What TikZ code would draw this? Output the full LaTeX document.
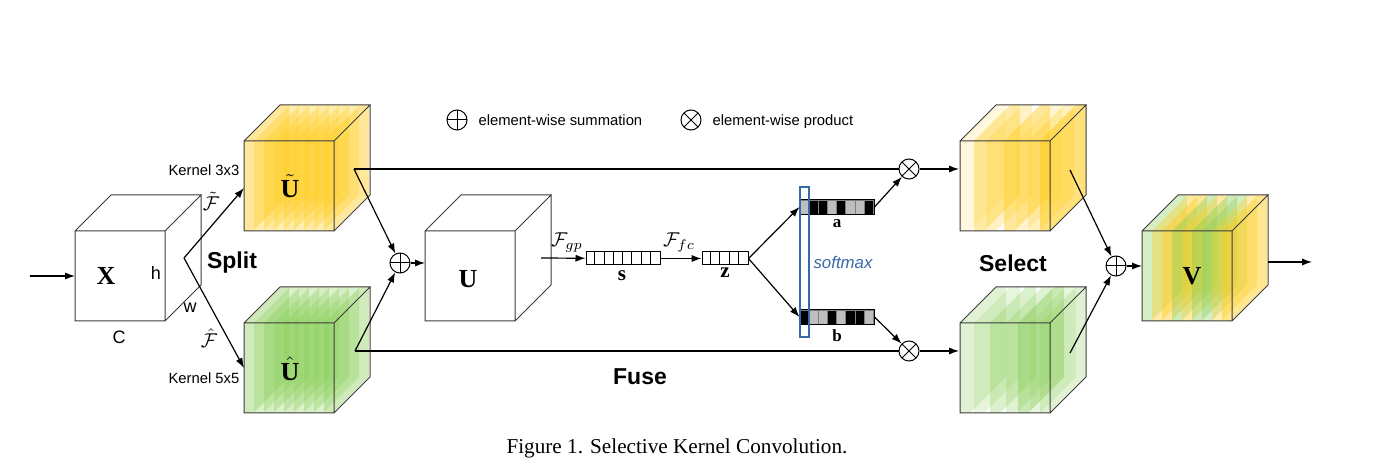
\documentclass[tikz,border=0pt]{standalone}
\usepackage{fontspec}
\setmainfont{Liberation Serif}
\setsansfont{Liberation Sans}
\usetikzlibrary{arrows.meta,positioning}

\definecolor{skyellow}{RGB}{255,205,35}
\definecolor{skgreen}{RGB}{135,205,85}
\definecolor{cellgray}{RGB}{190,190,190}
\definecolor{smaxblue}{RGB}{55,105,165}
\definecolor{edgegray}{RGB}{60,60,60}

\tikzset{
  arr/.style={-{Latex[length=5pt,width=3.6pt]}, line width=0.6pt},
  ln/.style={line width=0.6pt},
  cubeline/.style={draw=edgegray, line width=0.5pt},
  plusnode/.style={circle, draw, line width=0.5pt, minimum size=10pt, inner sep=0pt,
    path picture={\draw[line width=0.5pt] (path picture bounding box.north) -- (path picture bounding box.south)
      (path picture bounding box.west) -- (path picture bounding box.east);}},
  timesnode/.style={circle, draw, line width=0.5pt, minimum size=10pt, inner sep=0pt,
    path picture={\draw[line width=0.5pt] ([shift={(45:8pt)}]path picture bounding box.center) -- ([shift={(225:8pt)}]path picture bounding box.center)
      ([shift={(135:8pt)}]path picture bounding box.center) -- ([shift={(315:8pt)}]path picture bounding box.center);}},
  vecbox/.style={draw, line width=0.5pt, minimum width=37pt, minimum height=6.5pt, inner sep=0pt},
  lbl/.style={font=\sffamily\fontsize{7.4}{9}\selectfont, text height=1.6ex, text depth=0.4ex},
  dimlbl/.style={font=\sffamily\fontsize{9}{10}\selectfont},
  stagelbl/.style={font=\sffamily\bfseries\fontsize{11.5}{13}\selectfont},
  cubelbl/.style={font=\bfseries\fontsize{13}{15}\selectfont},
  mathlbl/.style={font=\fontsize{10}{12}\selectfont, inner sep=1pt},
}

% cube: front top-left corner x, y, slab list offset/colour/opacity, slab thickness
\newcommand{\skcube}[4]{%
  \foreach \o/\c/\p in {#3}
    \fill[\c, fill opacity=\p] (#1+\o,#2+90) -- ++(0,-90) -- ++(36,-36) -- ++(#4,0) -- ++(0,90) -- ++(-36,36) -- cycle;
  \draw[cubeline] (#1,#2) rectangle ++(90,90) (#1,#2) -- ++(36,-36) -- ++(90,0) -- ++(-36,36)
    ++(36,-36) -- ++(0,90) -- ++(-36,36);
}

\begin{document}
\begin{tikzpicture}[x=0.5pt, y=-0.5pt]
  \useasboundingbox (0,0) rectangle (1393,475);

  % legend
  \node[plusnode] (legsum) at (457,120) {};
  \node[lbl, right=2pt of legsum] (legsumtxt) {element-wise summation};
  \node[timesnode] (legprod) at (691,120) {};
  \node[lbl, right=2pt of legprod] (legprodtxt) {element-wise product};

  % input X
  \skcube{75}{231}{}{8}
  \node[cubelbl] (xlbl) at (106,276) {X};
  \node[dimlbl] (hlbl) at (156,273) {h};
  \node[dimlbl] (wlbl) at (190,308) {w};
  \node[dimlbl] (clbl) at (119,337) {C};
  \coordinate (in) at (30,276);
  \coordinate (X-in) at (75,276);
  \draw[arr] (in) -- (X-in);

  % split
  \coordinate (split) at (184,258);
  \skcube{244}{141}{0/skyellow/0.45,10/skyellow/0.35,20/skyellow/0.4,30/skyellow/0.35,40/skyellow/0.4,50/skyellow/0.35,60/skyellow/0.4,70/skyellow/0.35,80/skyellow/0.45}{9}
  \skcube{244}{323}{0/skgreen/0.4,10/skgreen/0.3,20/skgreen/0.35,30/skgreen/0.3,40/skgreen/0.35,50/skgreen/0.3,60/skgreen/0.35,70/skgreen/0.3,80/skgreen/0.4}{9}
  \node[cubelbl] (utlbl) at (290,186) {$\tilde{\mathbf{U}}$};
  \node[cubelbl] (uhlbl) at (290,369) {$\hat{\mathbf{U}}$};
  \coordinate (Ut-in) at (244,188);
  \coordinate (Uh-in) at (244,368);
  \draw[arr] (split) -- (Ut-in);
  \draw[arr] (split) -- (Uh-in);
  \node[mathlbl] (ftl) at (211,201) {$\tilde{\mathcal{F}}$};
  \node[mathlbl] (fhl) at (209,338) {$\hat{\mathcal{F}}$};
  \node[lbl] (k3) at (204,170) {Kernel 3x3};
  \node[lbl] (k5) at (204,378) {Kernel 5x5};
  \node[stagelbl] (splitlbl) at (232,263) {Split};

  % fuse
  \node[plusnode] (sum1) at (400,263) {};
  \coordinate (Ut-out) at (354,169);
  \coordinate (Uh-out) at (355,351);
  \draw[arr] (Ut-out) -- (sum1);
  \draw[arr] (Uh-out) -- (sum1);
  \skcube{425}{231}{}{8}
  \node[cubelbl] (ulbl) at (468,279) {U};
  \coordinate (U-in) at (425,263);
  \draw[arr] (sum1) -- (U-in);
  \coordinate (gp) at (541,258);
  \node[vecbox] (s) at (623,258.5) {};
  \foreach \i in {1,...,7}
    \draw[line width=0.5pt] ([xshift=\i*4.625pt]s.north west) -- ([xshift=\i*4.625pt]s.south west);
  \node[vecbox, minimum width=23pt] (z) at (725,258.5) {};
  \foreach \i in {1,...,4}
    \draw[line width=0.5pt] ([xshift=\i*4.6pt]z.north west) -- ([xshift=\i*4.6pt]z.south west);
  \draw[arr] (gp) -- (s);
  \draw[arr] (s) -- (z);
  \node[mathlbl] (fgp) at (567,243) {$\mathcal{F}_{gp}$};
  \node[mathlbl] (ffc) at (679,243) {$\mathcal{F}_{fc}$};
  \node[font=\bfseries\fontsize{10.5}{12}\selectfont] (slbl) at (622,276) {s};
  \node[font=\bfseries\fontsize{10.5}{12}\selectfont] (zlbl) at (725,273) {z};
  \node[stagelbl] (fuselbl) at (640,377) {Fuse};

  % attention vectors
  \node[vecbox, minimum height=7pt] (a) at (837,207) {};
  \node[vecbox, minimum height=7pt] (b) at (837,317) {};
  \foreach \i/\c in {0/cellgray,1/black,2/black,3/cellgray,4/black,5/cellgray,6/cellgray,7/black}
    \filldraw[fill=\c, draw=gray, line width=0.3pt] ([xshift=\i*4.625pt]a.south west) rectangle ++(4.625pt,7pt);
  \foreach \i/\c in {0/black,1/cellgray,2/cellgray,3/black,4/cellgray,5/black,6/black,7/cellgray}
    \filldraw[fill=\c, draw=gray, line width=0.3pt] ([xshift=\i*4.625pt]b.south west) rectangle ++(4.625pt,7pt);
  \draw[line width=0.5pt] (a.south west) rectangle (a.north east) (b.south west) rectangle (b.north east);
  \node[draw=smaxblue, line width=0.6pt, minimum width=4.5pt, minimum height=75pt, inner sep=0pt] (smax) at (804.5,262) {};
  \node[font=\sffamily\itshape\fontsize{8.4}{10}\selectfont, text=smaxblue] (smaxlbl) at (843,262) {softmax};
  \node[font=\bfseries\fontsize{8.5}{10}\selectfont] (albl) at (837,224) {a};
  \node[font=\bfseries\fontsize{8.5}{10}\selectfont] (blbl) at (837,336) {b};
  \draw[arr] (z.east) -- (a.west);
  \draw[arr] (z.east) -- (b.west);

  % select
  \node[timesnode] (prod1) at (909,169) {};
  \node[timesnode] (prod2) at (909,351) {};
  \draw[ln] (Ut-out) -- (prod1);
  \draw[ln] (Uh-out) -- (prod2);
  \draw[arr] (a.east) -- (prod1);
  \draw[arr] (b.east) -- (prod2);
  \skcube{960}{141}{0/skyellow/0.15,14/skyellow/0.4,26/skyellow/0.25,44/skyellow/0.45,56/skyellow/0.2,68/skyellow/0.3,80/skyellow/0.6}{10}
  \skcube{960}{323}{0/skgreen/0.25,14/skgreen/0.2,30/skgreen/0.3,46/skgreen/0.25,58/skgreen/0.45,70/skgreen/0.2,80/skgreen/0.25}{10}
  \coordinate (Sa-in) at (959,169);
  \coordinate (Sb-in) at (959,351);
  \draw[arr] (prod1) -- (Sa-in);
  \draw[arr] (prod2) -- (Sb-in);
  \node[stagelbl] (selectlbl) at (1013,263) {Select};

  % output V
  \node[plusnode] (sum2) at (1116,266) {};
  \coordinate (Sa-out) at (1070,170);
  \coordinate (Sb-out) at (1070,353);
  \draw[arr] (Sa-out) -- (sum2);
  \draw[arr] (Sb-out) -- (sum2);
  \skcube{1142}{231}{0/skgreen/0.35,10/skyellow/0.4,20/skyellow/0.45,30/skgreen/0.4,40/skyellow/0.4,50/skgreen/0.4,60/skgreen/0.35,70/skyellow/0.35,80/skyellow/0.5}{9}
  \node[cubelbl] (vlbl) at (1192,276) {V};
  \coordinate (V-in) at (1142,266);
  \draw[arr] (sum2) -- (V-in);
  \coordinate (V-out) at (1268,262);
  \coordinate (out) at (1312,262);
  \draw[arr] (V-out) -- (out);

  \node[font=\fontsize{10.6}{12}\selectfont] (caption) at (677,448) {Figure 1. Selective Kernel Convolution.};
\end{tikzpicture}
\end{document}
